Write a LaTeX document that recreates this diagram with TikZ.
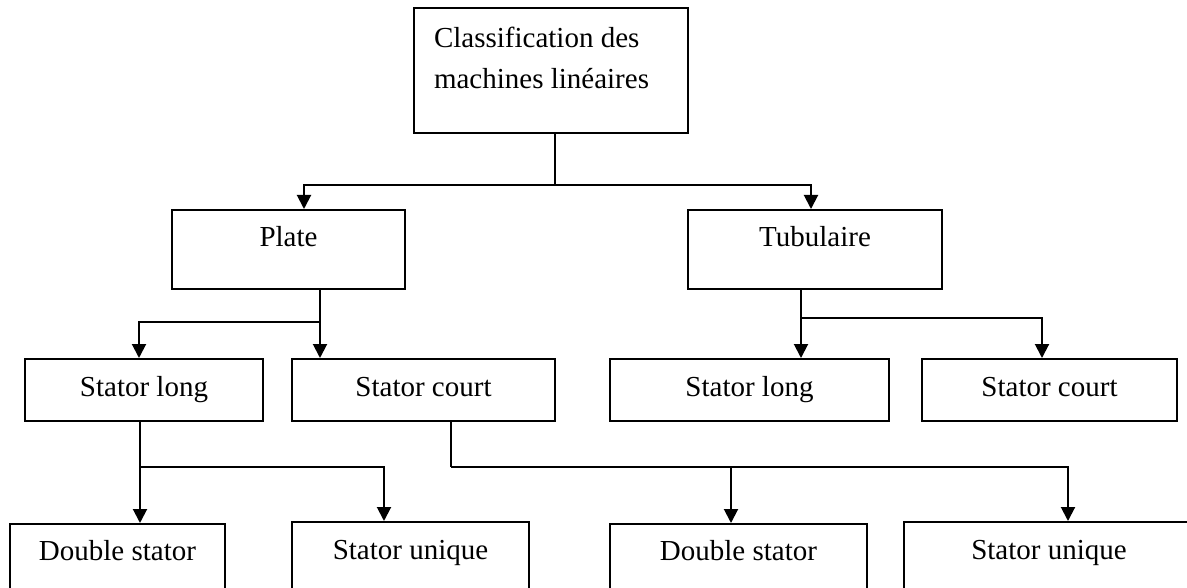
\documentclass[tikz,border=0pt]{standalone}
\usepackage{fontspec}
\setmainfont{Liberation Serif}
\usetikzlibrary{arrows.meta}
\begin{document}
\begin{tikzpicture}[x=1pt,y=-1pt,
  box/.style={draw, line width=2pt, inner sep=0pt, anchor=north west,
    font=\fontsize{29}{41}\selectfont},
  arr/.style={line width=2pt, -{Triangle[width=14pt,length=14pt]}},
  ln/.style={line width=2pt}]
\useasboundingbox (0,0) rectangle (1187,588);
\clip (0,0) rectangle (1187,588);
\node[box, inner xsep=20pt, text height=40pt, text depth=85pt] (title) at (413,7)
  {\parbox[t]{234pt}{\raggedright Classification des\\machines linéaires}};
\node[box, minimum width=233pt, text height=37pt, text depth=42pt] (plate) at (171,209) {Plate};
\node[box, minimum width=254pt, text height=37pt, text depth=42pt] (tub) at (687,209) {Tubulaire};
\node[box, minimum width=238pt, text height=37pt, text depth=25pt] (slL) at (24,358) {Stator long};
\node[box, minimum width=263pt, text height=37pt, text depth=25pt] (scL) at (291,358) {Stator court};
\node[box, minimum width=279pt, text height=37pt, text depth=25pt] (slR) at (609,358) {Stator long};
\node[box, minimum width=255pt, text height=37pt, text depth=25pt] (scR) at (921,358) {Stator court};
\node[box, minimum width=215pt, text height=36pt, text depth=50pt] (dsL) at (9,523) {Double stator};
\node[box, minimum width=237pt, text height=37pt, text depth=50pt] (suL) at (291,521) {Stator unique};
\node[box, minimum width=257pt, text height=36pt, text depth=50pt] (dsR) at (609,523) {Double stator};
\node[box, minimum width=290pt, text height=37pt, text depth=50pt] (suR) at (903,521) {Stator unique};
% title to level 1
\draw[ln] ([xshift=4pt]title.south) -- ++(0,51) coordinate (j1);
\draw[arr] (j1) -| ([xshift=15.5pt]plate.north);
\draw[arr] (j1) -| ([xshift=-4pt]tub.north);
% plate
\draw[arr] ([xshift=31.5pt]plate.south) -- ([xshift=31.5pt]plate.south |- scL.north);
\draw[arr] ([xshift=31.5pt]plate.south) ++(0,32) -| ([xshift=-5pt]slL.north);
% tubulaire
\draw[arr] ([xshift=-14pt]tub.south) -- ([xshift=-14pt]tub.south |- slR.north);
\draw[arr] ([xshift=-14pt]tub.south) ++(0,28) -| ([xshift=-7.5pt]scR.north);
% stator long left
\draw[arr] ([xshift=-4pt]slL.south) -- ([xshift=-4pt]slL.south |- dsL.north);
\draw[arr] ([xshift=-4pt]slL.south) ++(0,45) -| ([xshift=-26.5pt]suL.north);
% stator court left
\draw[ln] ([xshift=27.5pt]scL.south) -- ++(0,45) coordinate (j5);
\draw[arr] (j5) -| ([xshift=-7.5pt]dsR.north);
\draw[arr] (j5) -| ([xshift=19pt]suR.north);
\end{tikzpicture}
\end{document}
